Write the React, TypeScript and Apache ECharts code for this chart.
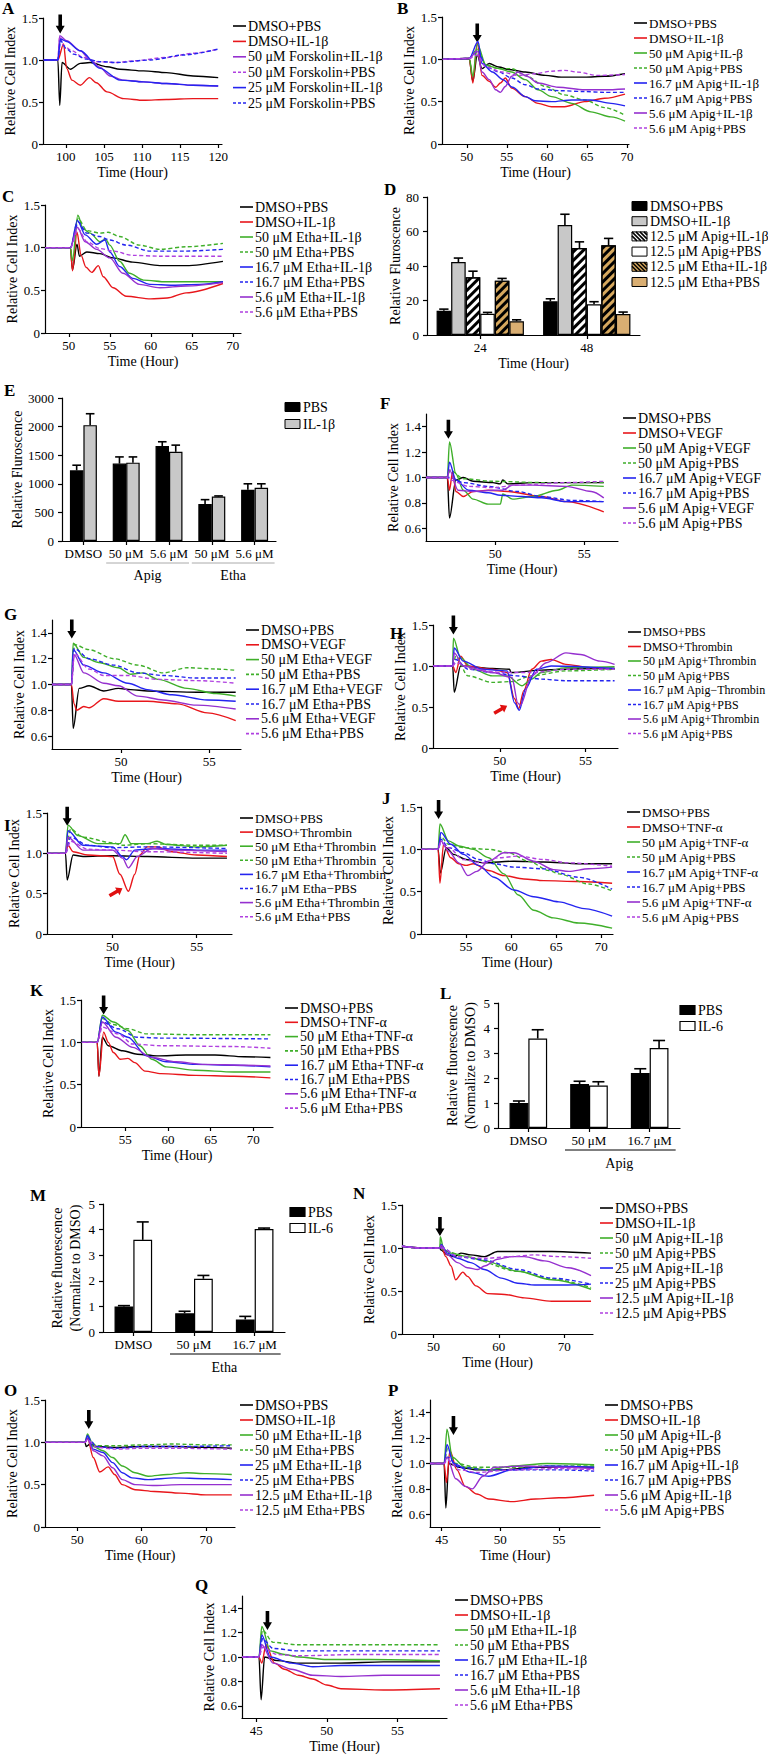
import React, { useEffect, useRef } from "react";
import * as echarts from "echarts";

const FONT = "Liberation Serif, Times New Roman, serif";
const K = "#000000", R = "#E8161B", G = "#3FAF2A", B = "#2424F0", P = "#9530CF", M = "#B040E0";

// ---------------- Panel A (Forskolin) ----------------
const aPre = [[97.1, 1], [98.95, 1]];
const aDmsoPbs = [...aPre, [99.2, 0.46], [99.5, 0.97], [100.6, 0.89], [101.9, 0.96], [103.2, 0.97], [105.4, 0.92], [107.1, 0.89], [110.2, 0.87], [113.2, 0.85], [116.7, 0.81], [120, 0.79]];
const aDmsoIl = [...aPre, [99.7, 1.19], [100.1, 0.9], [100.8, 0.76], [101.9, 0.7], [103.1, 0.79], [104, 0.73], [105.4, 0.62], [107.6, 0.54], [110.2, 0.52], [113.2, 0.53], [116.7, 0.54], [120, 0.54]];
const aF50Il = [...aPre, [99.2, 1.29], [100.1, 1.23], [101.9, 1.11], [103.2, 1.0], [104.5, 0.91], [105.8, 0.81], [107.6, 0.76], [110.2, 0.74], [113.2, 0.72], [116.7, 0.7], [120, 0.69]];
const aF50Pbs = [...aPre, [99.2, 1.28], [99.7, 1.17], [100.8, 1.11], [102.3, 1.03], [104.1, 0.98], [106.7, 0.97], [108.9, 0.99], [113.2, 1.03], [116.7, 1.08], [120, 1.13]];
const aF25Il = [...aPre, [99.3, 1.25], [100.1, 1.22], [101.9, 1.11], [104.5, 0.9], [107.1, 0.76], [110.2, 0.74], [113.2, 0.72], [116.7, 0.7], [120, 0.69]];
const aF25Pbs = [...aPre, [99.3, 1.23], [100.1, 1.13], [101, 1.07], [102.7, 1.01], [104.5, 0.98], [106.7, 0.97], [111.1, 1.0], [115.5, 1.06], [120, 1.13]];

// ---------------- Panel B (Apig, IL-1β) ----------------
const bPre = [[47, 1], [50.3, 1.01]];
const bDmsoPbs = [...bPre, [50.75, 0.74], [51.3, 1.05], [51.9, 0.89], [52.8, 0.95], [54, 0.91], [55.2, 0.88], [57.3, 0.85], [59.8, 0.81], [61.8, 0.79], [64.7, 0.79], [67.2, 0.8], [69.75, 0.83]];
const bDmsoIl = [...bPre, [50.75, 0.72], [51.3, 1.19], [51.9, 0.81], [52.8, 0.74], [53.6, 0.67], [54.2, 0.72], [54.8, 0.78], [55.6, 0.66], [57.3, 0.56], [58.9, 0.48], [60.6, 0.44], [62.2, 0.44], [64.7, 0.5], [67.2, 0.54], [69.75, 0.59]];
const bA50Il = [...bPre, [50.75, 0.8], [51.3, 1.18], [52.4, 0.93], [54, 0.89], [55.6, 0.85], [57.3, 0.76], [58.9, 0.64], [60.6, 0.56], [63.1, 0.48], [65.5, 0.38], [68, 0.32], [69.75, 0.27]];
const bA50Pbs = [...bPre, [51.3, 1.12], [52.4, 0.93], [54, 0.89], [55.6, 0.89], [57.3, 0.81], [59.8, 0.68], [62.2, 0.58], [64.7, 0.52], [67.2, 0.43], [69.75, 0.34]];
const bA167Il = [...bPre, [51.4, 1.21], [51.9, 0.95], [53.2, 0.85], [54.5, 0.76], [55.7, 0.67], [57.3, 0.56], [58.5, 0.51], [60.6, 0.5], [63.1, 0.52], [65.5, 0.52], [68, 0.48], [69.75, 0.45]];
const bA167Pbs = [...bPre, [51.4, 1.1], [52.4, 0.91], [54, 0.85], [55.6, 0.78], [57.3, 0.7], [58.9, 0.65], [61.4, 0.63], [64.7, 0.62], [67.2, 0.61], [69.75, 0.61]];
const bA56Il = [...bPre, [51.3, 1.1], [51.9, 0.85], [52.8, 0.76], [53.6, 0.64], [54.2, 0.61], [54.8, 0.68], [55.6, 0.8], [56.4, 0.85], [57.5, 0.8], [58.9, 0.72], [61.4, 0.67], [64.7, 0.64], [67.2, 0.64], [69.75, 0.65]];
const bA56Pbs = [...bPre, [51.3, 1.05], [52.4, 0.91], [54.4, 0.85], [56.4, 0.81], [58.5, 0.83], [60.6, 0.86], [62.2, 0.87], [63.8, 0.85], [66.3, 0.81], [69.75, 0.82]];

// ---------------- Panel C (Etha, IL-1β) ----------------
const cPre = [[47.1, 1], [50.2, 1]];
const cDmsoPbs = [...cPre, [50.45, 0.74], [51, 1.04], [51.3, 0.9], [52.2, 0.95], [53.8, 0.93], [55.4, 0.88], [57.8, 0.83], [61.1, 0.79], [64.3, 0.79], [68.8, 0.84]];
const cDmsoIl = [...cPre, [50.45, 0.73], [51, 1.18], [51.5, 0.91], [52.1, 0.77], [52.8, 0.71], [53.6, 0.79], [54.2, 0.66], [55.4, 0.53], [57, 0.43], [60, 0.4], [62, 0.41], [64.3, 0.47], [68.8, 0.58]];
const cE50Il = [...cPre, [50.45, 0.85], [51.1, 1.38], [51.75, 1.22], [52.6, 1.17], [53.8, 1.07], [54.5, 1.1], [55, 1.03], [56.2, 0.84], [57.4, 0.7], [59.1, 0.62], [61.9, 0.6], [66, 0.6], [68.8, 0.6]];
const cE50Pbs = [...cPre, [51.15, 1.34], [52.2, 1.2], [53.8, 1.17], [54.8, 1.18], [56.2, 1.13], [58.6, 1.03], [61.1, 0.98], [64.3, 1.01], [68.8, 1.05]];
const cE167Il = [...cPre, [51.05, 1.32], [52, 1.15], [53.4, 1.04], [54.4, 1.09], [55, 0.95], [56.2, 0.78], [57.8, 0.64], [59.9, 0.57], [62.7, 0.56], [66, 0.57], [68.8, 0.6]];
const cE167Pbs = [...cPre, [51.15, 1.3], [52.2, 1.17], [53.8, 1.13], [55, 1.09], [57, 1.03], [59.9, 0.96], [64.3, 0.96], [68.8, 0.98]];
const cE56Il = [...cPre, [51.05, 1.24], [52, 1.07], [53.4, 0.98], [55, 0.88], [56.6, 0.7], [58.6, 0.57], [61.1, 0.53], [64.3, 0.55], [68.8, 0.59]];
const cE56Pbs = [...cPre, [51.15, 1.22], [52.2, 1.07], [53.8, 0.99], [55.4, 0.96], [57.8, 0.91], [61.1, 0.9], [68.8, 0.9]];

// ---------------- Panel D (bars) ----------------
const dHours = ["24", "48"];
const dDmsoPbs = [14, 19.5], dDmsoPbsErr = [1, 1.5];
const dDmsoIl = [42.3, 63.8], dDmsoIlErr = [2.3, 6.2];
const dApigIl = [33.5, 50.4], dApigIlErr = [3.5, 3.6];
const dApigPbs = [12.3, 17.8], dApigPbsErr = [0.8, 1.5];
const dEthaIl = [31.5, 52], dEthaIlErr = [1.3, 4];
const dEthaPbs = [8, 12.2], dEthaPbsErr = [0.8, 1.1];

// ---------------- Panel E (bars, broken scale above 2000) ----------------
const eCats = ["DMSO", "50 μM", "5.6 μM", "50 μM", "5.6 μM"];
const ePbs = [1235, 1353, 1659, 647, 894], ePbsErr = [90, 117, 76, 76, 106];
const eIl = [2050, 1370, 1559, 776, 929], eIlErr = [400, 100, 117, 12, 71];

// ---------------- Panel F (Apig, VEGF) ----------------
const fPre = [[46.1, 1], [47.3, 1]];
const fDmsoPbs = [...fPre, [47.42, 0.68], [47.78, 0.98], [48.2, 1.0], [48.75, 0.97], [49.86, 0.96], [50.28, 0.95], [50.42, 0.98], [50.7, 0.95], [52.1, 0.96], [54, 0.96], [56.1, 0.96]];
const fDmsoVegf = [...fPre, [47.42, 0.9], [47.6, 1.05], [47.78, 0.89], [48.2, 0.85], [48.75, 0.89], [49.6, 0.9], [50.7, 0.89], [52.6, 0.85], [54, 0.81], [56.1, 0.73]];
const fA50Vegf = [...fPre, [47.42, 1.28], [47.78, 1.03], [48.2, 0.9], [48.75, 0.83], [49.6, 0.79], [50.28, 0.79], [50.42, 0.87], [50.97, 0.83], [52.1, 0.85], [53.5, 0.9], [54.3, 0.94], [56.1, 0.93]];
const fA50Pbs = [...fPre, [47.45, 1.06], [48.2, 0.99], [49.86, 0.97], [52.6, 0.96], [56.1, 0.96]];
const fA167Vegf = [...fPre, [47.42, 1.12], [47.78, 0.98], [48.5, 0.9], [49.6, 0.88], [50.28, 0.86], [51.5, 0.85], [52.6, 0.84], [54, 0.81], [56.1, 0.81]];
const fA167Pbs = [...fPre, [47.45, 1.0], [48.2, 0.96], [49.6, 0.93], [51.25, 0.89], [52.6, 0.85], [54.3, 0.82], [56.1, 0.81]];
const fA56Vegf = [...fPre, [47.42, 1.06], [47.9, 0.9], [48.75, 0.89], [49.86, 0.9], [50.42, 0.9], [50.97, 0.94], [52.1, 0.94], [54, 0.93], [55.4, 0.89], [56.1, 0.84]];
const fA56Pbs = [...fPre, [47.45, 0.98], [48.5, 0.93], [49.86, 0.92], [51.25, 0.94], [54, 0.96], [56.1, 0.97]];

// ---------------- Panel G (Etha, VEGF) ----------------
const gPre = [[46.1, 1], [47.2, 1]];
const gDmsoPbs = [...gPre, [47.3, 0.66], [47.64, 0.97], [48.2, 0.99], [49.03, 0.95], [49.86, 0.97], [50.56, 0.96], [51.5, 0.95], [54.3, 0.94], [56.5, 0.94]];
const gDmsoVegf = [...gPre, [47.35, 0.85], [47.5, 0.8], [47.9, 0.83], [48.2, 0.82], [49.03, 0.89], [49.86, 0.87], [51.5, 0.87], [53.2, 0.85], [54.9, 0.78], [56.5, 0.72]];
const gE50Vegf = [...gPre, [47.3, 1.32], [47.9, 1.21], [48.75, 1.17], [49.86, 1.13], [50.56, 1.08], [51.25, 1.09], [52.1, 1.04], [53.75, 0.97], [55.4, 0.93], [56.5, 0.91]];
const gE50Pbs = [...gPre, [47.36, 1.31], [48.2, 1.27], [49.6, 1.2], [50.97, 1.15], [52.4, 1.09], [53.75, 1.13], [55.4, 1.12], [56.5, 1.11]];
const gE167Vegf = [...gPre, [47.3, 1.27], [47.9, 1.15], [49.03, 1.09], [50.4, 1.01], [51.5, 0.96], [52.9, 0.92], [54.9, 0.88], [56.5, 0.87]];
const gE167Pbs = [...gPre, [47.36, 1.28], [48.2, 1.2], [49.6, 1.15], [50.97, 1.09], [52.4, 1.07], [54.3, 1.05], [56.5, 1.05]];
const gE56Vegf = [...gPre, [47.36, 1.23], [47.9, 1.09], [49.03, 1.01], [49.86, 0.99], [50.97, 0.91], [52.4, 0.88], [54.3, 0.84], [56.5, 0.81]];
const gE56Pbs = [...gPre, [47.36, 1.24], [48.2, 1.12], [49.03, 1.07], [50.4, 1.07], [52.1, 1.04], [54.3, 1.03], [56.5, 1.01]];

// ---------------- Panel H (Apig, Thrombin) ----------------
const hPre = [[46.1, 1], [47.25, 1]];
const hDmsoPbs = [...hPre, [47.34, 0.68], [47.71, 1.0], [49.57, 0.97], [50.57, 0.96], [50.65, 0.92], [52.43, 0.95], [55.29, 0.97], [56.7, 0.97]];
const hDmsoThr = [...hPre, [47.43, 0.92], [47.71, 1.12], [48.14, 1.0], [49.57, 0.96], [50.43, 0.92], [50.86, 0.6], [51.1, 0.48], [51.4, 0.7], [51.86, 0.96], [52.43, 1.06], [53.0, 1.08], [53.86, 1.02], [55.29, 0.98], [56.7, 0.96]];
const hA50Thr = [...hPre, [47.29, 1.34], [47.71, 1.1], [48.43, 0.96], [49.57, 0.88], [50.43, 0.88], [51.29, 0.76], [51.86, 0.84], [52.43, 0.92], [53.86, 0.98], [56.7, 0.99]];
const hA50Pbs = [...hPre, [47.43, 1.12], [48.14, 0.88], [49.57, 0.8], [50.71, 0.81], [51.86, 0.88], [53.86, 0.94], [56.7, 0.96]];
const hA167Thr = [...hPre, [47.34, 1.22], [47.86, 1.06], [49, 0.96], [50.43, 0.94], [50.86, 0.55], [51.14, 0.46], [51.5, 0.72], [52.14, 0.96], [53, 1.0], [56.7, 0.97]];
const hA167Pbs = [...hPre, [47.43, 1.08], [48.14, 0.96], [49.57, 0.92], [51.0, 0.88], [52.43, 0.84], [53.86, 0.82], [56.7, 0.82]];
const hA56Thr = [...hPre, [47.34, 1.16], [47.86, 1.0], [49.57, 0.92], [50.71, 0.86], [51.05, 0.55], [51.2, 0.52], [51.86, 0.88], [52.71, 1.04], [53.86, 1.16], [54.71, 1.14], [55.86, 1.06], [56.7, 1.02]];
const hA56Pbs = [...hPre, [47.43, 1.04], [48.43, 0.96], [50.14, 0.92], [51.86, 0.92], [53.86, 0.96], [56.7, 0.96]];

// ---------------- Panel I (Etha, Thrombin) ----------------
const iPre = [[46.1, 1], [47.2, 1]];
const iDmsoPbs = [...iPre, [47.3, 0.67], [47.65, 0.98], [48.24, 0.96], [50, 0.97], [52.06, 0.96], [55, 0.94], [56.8, 0.94]];
const iDmsoThr = [...iPre, [47.35, 1.1], [47.65, 1.02], [48.53, 0.98], [50, 0.96], [50.44, 0.74], [50.94, 0.53], [51.32, 0.74], [51.62, 0.98], [52.06, 1.08], [52.65, 1.08], [53.53, 1.02], [55, 0.98], [56.8, 0.96]];
const iE50Thr = [...iPre, [47.35, 1.35], [47.94, 1.22], [49.12, 1.12], [50.44, 1.12], [50.74, 1.23], [51.1, 1.12], [52.06, 1.12], [52.65, 1.15], [53.2, 1.11], [55, 1.08], [56.8, 1.1]];
const iE50Thr2 = [...iPre, [47.5, 1.3], [48.24, 1.2], [50, 1.13], [50.59, 1.1], [52.06, 1.12], [55, 1.1], [56.8, 1.1]];
const iE167Thr = [...iPre, [47.35, 1.28], [48.24, 1.1], [50, 1.08], [50.59, 0.96], [50.82, 0.92], [51.32, 1.04], [52.65, 1.06], [55, 1.04], [56.8, 1.04]];
const iE167Pbs = [...iPre, [47.5, 1.2], [48.53, 1.1], [50, 1.07], [52.06, 1.08], [56.8, 1.06]];
const iE56Thr = [...iPre, [47.35, 1.2], [48.24, 1.04], [50, 1.04], [50.59, 0.94], [50.94, 0.82], [51.47, 0.96], [52.35, 1.06], [53.53, 1.04], [56.8, 1.02]];
const iE56Pbs = [...iPre, [47.5, 1.15], [48.53, 1.05], [50, 1.04], [52.06, 1.02], [56.8, 1.0]];

// ---------------- Panel J (Apig, TNF-α) ----------------
const jPre = [[50, 1], [51.9, 1]];
const jDmsoPbs = [...jPre, [52.15, 0.72], [52.8, 1.02], [53.6, 0.94], [55, 0.88], [56.9, 0.84], [60.3, 0.86], [63.6, 0.85], [67.5, 0.83], [71.2, 0.83]];
const jDmsoTnf = [...jPre, [52.1, 0.6], [52.5, 1.06], [53.3, 0.9], [54.2, 0.83], [55, 0.81], [55.8, 0.83], [57.5, 0.75], [59.2, 0.69], [61.4, 0.65], [63.6, 0.63], [67.5, 0.62], [71.2, 0.6]];
const jA50Tnf = [...jPre, [52.1, 1.3], [53.05, 1.1], [54.2, 1.04], [55.8, 1.0], [57.5, 0.9], [59.2, 0.71], [60.8, 0.46], [62.5, 0.28], [64.7, 0.19], [67.5, 0.13], [71.2, 0.07]];
const jA50Pbs = [...jPre, [52.2, 1.15], [53.05, 1.06], [54.7, 1.02], [57.5, 1.0], [59.7, 0.96], [61.9, 0.86], [64.2, 0.75], [65.3, 0.71], [68.6, 0.59], [71.2, 0.51]];
const jA167Tnf = [...jPre, [52.2, 1.2], [53.3, 1.06], [54.7, 0.94], [56.4, 0.81], [58.1, 0.67], [60.3, 0.52], [62.5, 0.44], [65.3, 0.38], [68.1, 0.3], [71.2, 0.21]];
const jA167Pbs = [...jPre, [52.2, 1.12], [53.05, 1.02], [54.7, 0.96], [56.4, 0.88], [58.1, 0.83], [60.3, 0.79], [63.6, 0.77], [67.5, 0.67], [71.2, 0.53]];
const jA56Tnf = [...jPre, [52.2, 1.1], [53.05, 0.98], [54.2, 0.84], [55.2, 0.69], [56.2, 0.74], [57.5, 0.86], [59.2, 0.96], [60.3, 0.96], [62.5, 0.86], [64.7, 0.76], [66.4, 0.74], [68.6, 0.77], [71.2, 0.79]];
const jA56Pbs = [...jPre, [52.2, 1.08], [53.05, 1.02], [54.7, 0.88], [56.7, 0.84], [58.6, 0.9], [60.8, 0.92], [63.6, 0.88], [66.4, 0.84], [71.2, 0.8]];

// ---------------- Panel K (Etha, TNF-α) ----------------
const kPre = [[49.9, 1], [51.7, 1]];
const kDmsoPbs = [...kPre, [51.9, 0.6], [52.3, 1.06], [53, 0.96], [54.7, 0.9], [56.4, 0.86], [58.7, 0.84], [62.1, 0.85], [65.5, 0.85], [68.9, 0.83], [72, 0.82]];
const kDmsoTnf = [...kPre, [51.9, 0.6], [52.45, 1.12], [53, 1.0], [53.6, 0.88], [54.4, 0.8], [55.3, 0.81], [56.1, 0.76], [57.3, 0.66], [59.2, 0.63], [63.2, 0.61], [67.7, 0.6], [72, 0.58]];
const kE50Tnf = [...kPre, [52.3, 1.32], [53.6, 1.24], [55.3, 1.14], [56.7, 0.96], [58.1, 0.8], [59.8, 0.71], [63.2, 0.67], [67.7, 0.65], [72, 0.65]];
const kE50Pbs = [...kPre, [52.3, 1.28], [53.6, 1.21], [55.3, 1.16], [57.5, 1.1], [63.2, 1.09], [72, 1.09]];
const kE167Tnf = [...kPre, [52.3, 1.3], [53.9, 1.12], [55.3, 1.06], [57.5, 0.84], [59.8, 0.77], [63.2, 0.74], [67.7, 0.73], [72, 0.71]];
const kE167Pbs = [...kPre, [52.3, 1.24], [54.15, 1.16], [56.4, 1.06], [59.2, 1.05], [72, 1.04]];
const kE56Tnf = [...kPre, [52.3, 1.24], [53.9, 1.06], [55.85, 0.94], [58.1, 0.82], [60.9, 0.77], [64.3, 0.74], [68.9, 0.73], [72, 0.72]];
const kE56Pbs = [...kPre, [52.3, 1.18], [54.15, 1.1], [55.85, 0.98], [59.2, 0.96], [67.7, 0.95], [72, 0.93]];

// ---------------- Panel L / M (IL-6 bars) ----------------
const lCats = ["DMSO", "50 μM", "16.7 μM"];
const lPbs = [1.0, 1.76, 2.2], lPbsErr = [0.08, 0.11, 0.17];
const lIl6 = [3.58, 1.7, 3.2], lIl6Err = [0.35, 0.15, 0.3];
const mCats = ["DMSO", "50 μM", "16.7 μM"];
const mPbs = [1.0, 0.73, 0.49], mPbsErr = [0.03, 0.08, 0.12];
const mIl6 = [3.6, 2.08, 4.02], mIl6Err = [0.7, 0.13, 0.04];

// ---------------- Panel N (Apig, IL-1β) ----------------
const nPre = [[45.2, 1.02], [48, 1.0], [51, 1.0]];
const nDmsoPbs = [...nPre, [51.1, 0.98], [52.15, 0.92], [53.2, 0.9], [54.2, 0.94], [55.7, 0.92], [57.8, 0.9], [59.8, 0.96], [62.9, 0.96], [68.1, 0.96], [74.1, 0.94]];
const nDmsoIl = [...nPre, [51.2, 1.02], [51.9, 0.9], [52.7, 0.79], [53.4, 0.63], [54.5, 0.72], [55.2, 0.67], [56.5, 0.56], [58.3, 0.47], [60.9, 0.46], [63.9, 0.42], [68.1, 0.38], [74.1, 0.38]];
const nA50Il = [...nPre, [51.05, 1.13], [51.6, 0.98], [52.7, 0.94], [55.2, 0.9], [57.8, 0.85], [62.9, 0.73], [68.1, 0.63], [74.1, 0.52]];
const nA50Pbs = [...nPre, [51.1, 1.05], [51.6, 0.97], [55.2, 0.89], [62.9, 0.73], [68.1, 0.64], [74.1, 0.54]];
const nA25Il = [...nPre, [51.2, 1.04], [52.15, 0.94], [53.7, 0.88], [55.7, 0.83], [57.8, 0.75], [60.4, 0.65], [62.9, 0.59], [65.5, 0.57], [70.6, 0.57], [74.1, 0.58]];
const nA25Pbs = [...nPre, [51.4, 1.0], [53.7, 0.9], [57.8, 0.86], [62.9, 0.75], [68.1, 0.65], [74.1, 0.58]];
const nA125Il = [...nPre, [51.2, 1.03], [52.15, 0.92], [53.7, 0.83], [55.2, 0.77], [56.8, 0.75], [57.8, 0.79], [59.8, 0.87], [61.9, 0.9], [63.9, 0.9], [67, 0.85], [70.6, 0.77], [74.1, 0.68]];
const nA125Pbs = [...nPre, [51.4, 1.0], [53.7, 0.9], [57.8, 0.88], [61.9, 0.9], [65.5, 0.92], [69.1, 0.9], [74.1, 0.88]];

// ---------------- Panel O (Etha, IL-1β) ----------------
const oPre = [[45, 1], [51.2, 1]];
const oDmsoPbs = [...oPre, [51.4, 0.95], [52, 0.98], [53, 0.95], [56, 0.94], [60, 0.95], [65, 0.95], [70, 0.94], [74, 0.93]];
const oDmsoIl = [...oPre, [51.6, 1.05], [52.5, 0.82], [53.5, 0.65], [54.8, 0.71], [55.8, 0.62], [57, 0.5], [59, 0.44], [62, 0.42], [66, 0.4], [70, 0.38], [74, 0.38]];
const oE50Il = [...oPre, [51.6, 1.1], [52.5, 0.95], [54, 0.9], [55.5, 0.82], [57, 0.72], [59, 0.64], [61, 0.6], [64, 0.62], [67, 0.64], [70, 0.63], [74, 0.62]];
const oE50Pbs = [...oPre, [51.6, 1.05], [53, 0.96], [56, 0.96], [60, 0.97], [65, 0.98], [70, 0.97], [74, 0.97]];
const oE25Il = [...oPre, [51.6, 1.08], [52.5, 0.92], [54, 0.88], [55.5, 0.76], [57, 0.64], [58.5, 0.58], [61, 0.56], [65, 0.58], [70, 0.57], [74, 0.56]];
const oE25Pbs = [...oPre, [51.6, 1.06], [53, 0.95], [56, 0.93], [60, 0.95], [65, 0.95], [74, 0.96]];
const oE125Il = [...oPre, [51.6, 1.04], [52.5, 0.9], [54, 0.84], [55.5, 0.7], [57, 0.56], [59, 0.5], [62, 0.49], [66, 0.5], [70, 0.5], [74, 0.5]];
const oE125Pbs = [...oPre, [51.6, 1.03], [53, 0.94], [56, 0.92], [60, 0.93], [65, 0.93], [74, 0.92]];

// ---------------- Panel P (Apig, IL-1β) ----------------
const pPre = [[44, 1], [45.2, 1]];
const pDmsoPbs = [...pPre, [45.35, 0.65], [45.6, 1.0], [46.5, 0.97], [48, 0.95], [50, 0.95], [53, 0.97], [58, 0.97]];
const pDmsoIl = [...pPre, [45.4, 0.85], [45.7, 1.1], [46.3, 0.95], [47, 0.82], [48, 0.76], [49, 0.72], [51, 0.7], [53, 0.72], [55, 0.73], [58, 0.75]];
const pA50Il = [...pPre, [45.45, 1.27], [45.9, 1.05], [47, 0.97], [49, 0.95], [51, 0.98], [54, 1.0], [58, 0.99]];
const pA50Pbs = [...pPre, [45.5, 1.12], [46.2, 1.0], [48, 0.97], [51, 0.97], [54, 0.98], [58, 0.98]];
const pA167Il = [...pPre, [45.45, 1.15], [46, 1.0], [47.5, 0.93], [49, 0.9], [51, 0.95], [54, 0.98], [58, 0.97]];
const pA167Pbs = [...pPre, [45.5, 1.05], [46.5, 0.97], [49, 0.95], [52, 0.95], [55, 0.95], [58, 0.94]];
const pA56Il = [...pPre, [45.45, 1.05], [46.2, 0.88], [47, 0.82], [47.6, 0.8], [48.5, 0.9], [49.5, 0.97], [52, 0.98], [55, 0.97], [58, 0.96]];
const pA56Pbs = [...pPre, [45.5, 1.03], [46.5, 0.95], [48, 0.93], [51, 0.95], [55, 0.96], [58, 0.95]];

// ---------------- Panel Q (Etha, IL-1β) ----------------
const qPre = [[44, 1], [45.2, 1]];
const qDmsoPbs = [...qPre, [45.35, 0.65], [45.6, 1.0], [46.5, 0.97], [48, 0.95], [51, 0.95], [54, 0.96], [58, 0.96]];
const qDmsoIl = [...qPre, [45.4, 0.95], [45.7, 1.1], [46.3, 0.95], [47, 0.9], [48, 0.85], [49, 0.82], [50, 0.77], [51, 0.74], [54, 0.73], [58, 0.74]];
const qE50Il = [...qPre, [45.4, 1.25], [46, 1.05], [47, 1.02], [48, 1.0], [50, 0.98], [53, 0.98], [58, 0.97]];
const qE50Pbs = [...qPre, [45.45, 1.22], [46.2, 1.12], [48, 1.1], [51, 1.1], [55, 1.1], [58, 1.1]];
const qE167Il = [...qPre, [45.4, 1.18], [46, 1.0], [47.5, 0.95], [49, 0.92], [51, 0.93], [54, 0.93], [58, 0.93]];
const qE167Pbs = [...qPre, [45.45, 1.15], [46.2, 1.07], [48, 1.05], [51, 1.05], [55, 1.05], [58, 1.05]];
const qE56Il = [...qPre, [45.4, 1.1], [46.2, 0.95], [47.5, 0.9], [49, 0.85], [51, 0.84], [54, 0.85], [58, 0.85]];
const qE56Pbs = [...qPre, [45.45, 1.08], [46.5, 1.02], [48, 1.01], [52, 1.02], [58, 1.02]];

// --------------------------------------------------------------
type Ln = [string, number[][], string, boolean];
type LinePanel = {
  letter: string; lp: [number, number];
  box: [number, number, number, number];
  xr: [number, number]; xt: number[];
  yr: [number, number]; yt: number[];
  yGap: number;
  lines: Ln[];
  leg: [number, number, number, number];
  arrow: [number, number];
  red?: [number, number];
};

const Y15 = [0, 0.5, 1, 1.5];
const Y06 = [0.6, 0.8, 1.0, 1.2, 1.4];

const linePanels: LinePanel[] = [
  { letter: "A", lp: [2, 8], box: [43, 18, 179, 126], xr: [97, 120.5], xt: [100, 105, 110, 115, 120], yr: [0, 1.5], yt: Y15, yGap: 21,
    lines: [["DMSO+PBS", aDmsoPbs, K, false], ["DMSO+IL-1β", aDmsoIl, R, false], ["50 μM Forskolin+IL-1β", aF50Il, P, false], ["50 μM Forskolin+PBS", aF50Pbs, M, true], ["25 μM Forskolin+IL-1β", aF25Il, B, false], ["25 μM Forskolin+PBS", aF25Pbs, B, true]],
    leg: [233, 26, 15.4, 14], arrow: [99.26, 1.43] },
  { letter: "B", lp: [397, 8], box: [442, 17, 187, 127], xr: [46.9, 70.25], xt: [50, 55, 60, 65, 70], yr: [0, 1.5], yt: Y15, yGap: 19,
    lines: [["DMSO+PBS", bDmsoPbs, K, false], ["DMSO+IL-1β", bDmsoIl, R, false], ["50 μM Apig+IL-β", bA50Il, G, false], ["50 μM Apig+PBS", bA50Pbs, G, true], ["16.7 μM Apig+IL-1β", bA167Il, B, false], ["16.7 μM Apig+PBS", bA167Pbs, B, true], ["5.6 μM Apig+IL-1β", bA56Il, P, false], ["5.6 μM Apig+PBS", bA56Pbs, M, true]],
    leg: [634, 23, 15, 13], arrow: [51.3, 1.31] },
  { letter: "C", lp: [2, 196], box: [45, 205, 196, 128], xr: [47.1, 71], xt: [50, 55, 60, 65, 70], yr: [0, 1.5], yt: Y15, yGap: 23,
    lines: [["DMSO+PBS", cDmsoPbs, K, false], ["DMSO+IL-1β", cDmsoIl, R, false], ["50 μM Etha+IL-1β", cE50Il, G, false], ["50 μM Etha+PBS", cE50Pbs, G, true], ["16.7 μM Etha+IL-1β", cE167Il, B, false], ["16.7 μM Etha+PBS", cE167Pbs, B, true], ["5.6 μM Etha+IL-1β", cE56Il, P, false], ["5.6 μM Etha+PBS", cE56Pbs, M, true]],
    leg: [240, 207, 15, 14], arrow: [51.1, 1.53] },
  { letter: "F", lp: [380, 403], box: [426, 414, 192, 127], xr: [46.1, 56.9], xt: [50, 55], yr: [0.5, 1.5], yt: Y06, yGap: 25,
    lines: [["DMSO+PBS", fDmsoPbs, K, false], ["DMSO+VEGF", fDmsoVegf, R, false], ["50 μM Apig+VEGF", fA50Vegf, G, false], ["50 μM Apig+PBS", fA50Pbs, G, true], ["16.7 μM Apig+VEGF", fA167Vegf, B, false], ["16.7 μM Apig+PBS", fA167Pbs, B, true], ["5.6 μM Apig+VEGF", fA56Vegf, P, false], ["5.6 μM Apig+PBS", fA56Pbs, M, true]],
    leg: [623, 418, 15, 14], arrow: [47.36, 1.38] },
  { letter: "G", lp: [4, 614], box: [52, 620, 189, 129], xr: [46.1, 56.8], xt: [50, 55], yr: [0.5, 1.5], yt: Y06, yGap: 26,
    lines: [["DMSO+PBS", gDmsoPbs, K, false], ["DMSO+VEGF", gDmsoVegf, R, false], ["50 μM Etha+VEGF", gE50Vegf, G, false], ["50 μM Etha+PBS", gE50Pbs, G, true], ["16.7 μM Etha+VEGF", gE167Vegf, B, false], ["16.7 μM Etha+PBS", gE167Pbs, B, true], ["5.6 μM Etha+VEGF", gE56Vegf, P, false], ["5.6 μM Etha+PBS", gE56Pbs, M, true]],
    leg: [246, 630, 14.8, 14], arrow: [47.22, 1.43] },
  { letter: "H", lp: [390, 633], box: [433, 625, 185, 123], xr: [46.1, 56.9], xt: [50, 55], yr: [0, 1.5], yt: Y15, yGap: 25,
    lines: [["DMSO+PBS", hDmsoPbs, K, false], ["DMSO+Thrombin", hDmsoThr, R, false], ["50 μM Apig+Thrombin", hA50Thr, G, false], ["50 μM Apig+PBS", hA50Pbs, G, true], ["16.7 μM Apig−Thrombin", hA167Thr, B, false], ["16.7 μM Apig+PBS", hA167Pbs, B, true], ["5.6 μM Apig+Thrombin", hA56Thr, P, false], ["5.6 μM Apig+PBS", hA56Pbs, M, true]],
    leg: [628, 632, 14.5, 12], arrow: [47.29, 1.5], red: [50.05, 0.47] },
  { letter: "I", lp: [4, 825], box: [47, 813, 185, 121], xr: [46.1, 57.1], xt: [50, 55], yr: [0, 1.5], yt: Y15, yGap: 23,
    lines: [["DMSO+PBS", iDmsoPbs, K, false], ["DMSO+Thrombin", iDmsoThr, R, false], ["50 μM Etha+Thrombin", iE50Thr, G, false], ["50 μM Etha+Thrombin", iE50Thr2, G, true], ["16.7 μM Etha+Thrombin", iE167Thr, B, false], ["16.7 μM Etha−PBS", iE167Pbs, B, true], ["5.6 μM Etha+Thrombin", iE56Thr, P, false], ["5.6 μM Etha+PBS", iE56Pbs, M, true]],
    leg: [240, 818, 14.1, 13], arrow: [47.3, 1.46], red: [50.2, 0.52] },
  { letter: "J", lp: [382, 798], box: [421, 807, 192, 127], xr: [50, 71.3], xt: [55, 60, 65, 70], yr: [0, 1.5], yt: Y15, yGap: 20,
    lines: [["DMSO+PBS", jDmsoPbs, K, false], ["DMSO+TNF-α", jDmsoTnf, R, false], ["50 μM Apig+TNF-α", jA50Tnf, G, false], ["50 μM Apig+PBS", jA50Pbs, G, true], ["16.7 μM Apig+TNF-α", jA167Tnf, B, false], ["16.7 μM Apig+PBS", jA167Pbs, B, true], ["5.6 μM Apig+TNF-α", jA56Tnf, P, false], ["5.6 μM Apig+PBS", jA56Pbs, M, true]],
    leg: [627, 812, 15, 13], arrow: [51.95, 1.47] },
  { letter: "K", lp: [30, 990], box: [81, 1000, 192, 127], xr: [49.8, 72.3], xt: [55, 60, 65, 70], yr: [0, 1.5], yt: Y15, yGap: 22,
    lines: [["DMSO+PBS", kDmsoPbs, K, false], ["DMSO+TNF-α", kDmsoTnf, R, false], ["50 μM Etha+TNF-α", kE50Tnf, G, false], ["50 μM Etha+PBS", kE50Pbs, G, true], ["16.7 μM Etha+TNF-α", kE167Tnf, B, false], ["16.7 μM Etha+PBS", kE167Pbs, B, true], ["5.6 μM Etha+TNF-α", kE56Tnf, P, false], ["5.6 μM Etha+PBS", kE56Pbs, M, true]],
    leg: [285, 1008, 14.3, 14], arrow: [52.45, 1.44] },
  { letter: "N", lp: [353, 1193], box: [402, 1205, 191, 129], xr: [45.2, 74.4], xt: [50, 60, 70], yr: [0, 1.5], yt: Y15, yGap: 23,
    lines: [["DMSO+PBS", nDmsoPbs, K, false], ["DMSO+IL-1β", nDmsoIl, R, false], ["50 μM Apig+IL-1β", nA50Il, G, false], ["50 μM Apig+PBS", nA50Pbs, G, true], ["25 μM Apig+IL-1β", nA25Il, B, false], ["25 μM Apig+PBS", nA25Pbs, B, true], ["12.5 μM Apig+IL-1β", nA125Il, P, false], ["12.5 μM Apig+PBS", nA125Pbs, M, true]],
    leg: [600, 1208, 15, 14], arrow: [51.0, 1.25] },
  { letter: "O", lp: [4, 1390], box: [45, 1400, 190, 127], xr: [45, 74.5], xt: [50, 60, 70], yr: [0, 1.5], yt: Y15, yGap: 23,
    lines: [["DMSO+PBS", oDmsoPbs, K, false], ["DMSO+IL-1β", oDmsoIl, R, false], ["50 μM Etha+IL-1β", oE50Il, G, false], ["50 μM Etha+PBS", oE50Pbs, G, true], ["25 μM Etha+IL-1β", oE25Il, B, false], ["25 μM Etha+PBS", oE25Pbs, B, true], ["12.5 μM Etha+IL-1β", oE125Il, P, false], ["12.5 μM Etha+PBS", oE125Pbs, M, true]],
    leg: [240, 1405, 15, 14], arrow: [51.8, 1.27] },
  { letter: "P", lp: [388, 1390], box: [430, 1400, 170, 127], xr: [44, 58.5], xt: [45, 50, 55], yr: [0.5, 1.5], yt: Y06, yGap: 23,
    lines: [["DMSO+PBS", pDmsoPbs, K, false], ["DMSO+IL-1β", pDmsoIl, R, false], ["50 μM Apig+IL-β", pA50Il, G, false], ["50 μM Apig+PBS", pA50Pbs, G, true], ["16.7 μM Apig+IL-1β", pA167Il, B, false], ["16.7 μM Apig+PBS", pA167Pbs, B, true], ["5.6 μM Apig+IL-1β", pA56Il, P, false], ["5.6 μM Apig+PBS", pA56Pbs, M, true]],
    leg: [605, 1405, 15, 14], arrow: [46.0, 1.3] },
  { letter: "Q", lp: [195, 1585], box: [242, 1596, 205, 122], xr: [44, 58.5], xt: [45, 50, 55], yr: [0.5, 1.5], yt: Y06, yGap: 23,
    lines: [["DMSO+PBS", qDmsoPbs, K, false], ["DMSO+IL-1β", qDmsoIl, R, false], ["50 μM Etha+IL-1β", qE50Il, G, false], ["50 μM Etha+PBS", qE50Pbs, G, true], ["16.7 μM Etha+IL-1β", qE167Il, B, false], ["16.7 μM Etha+PBS", qE167Pbs, B, true], ["5.6 μM Etha+IL-1β", qE56Il, P, false], ["5.6 μM Etha+PBS", qE56Pbs, M, true]],
    leg: [455, 1600, 15, 14], arrow: [45.8, 1.3] },
];

const ARROW = "path://M3,0L7,0L7,12L10,12L5,20L0,12L3,12Z";

function fmtY(v: number) { return v === 0 ? "0" : v.toFixed(1); }
function eMap(v: number) { return v <= 2000 ? v : 2000 + (v - 2000) / 2; }

function buildOption() {
  const grid: any[] = [], xAxis: any[] = [], yAxis: any[] = [], series: any[] = [], graphic: any[] = [];
  const axisCommon = {
    axisLine: { show: true, onZero: false, lineStyle: { color: "#000", width: 1.2 } },
    axisTick: { show: true, length: 4, lineStyle: { color: "#000", width: 1.2 } },
    splitLine: { show: false },
    axisLabel: { color: "#000", fontSize: 13, fontFamily: FONT },
    nameTextStyle: { color: "#000", fontSize: 14, fontFamily: FONT },
  };
  const text = (x: number, y: number, s: string, size = 14, extra: any = {}) => ({
    type: "text", x, y, silent: true,
    style: { text: s, fill: "#000", fontSize: size, fontFamily: FONT, align: "left", verticalAlign: "middle", ...extra },
  });
  const letter = (x: number, y: number, s: string) => text(x, y, s, 17, { fontWeight: "bold" });

  let gi = 0;
  for (const p of linePanels) {
    grid.push({ left: p.box[0], top: p.box[1], width: p.box[2], height: p.box[3] });
    xAxis.push({
      ...axisCommon, gridIndex: gi, type: "value", min: p.xr[0], max: p.xr[1],
      axisTick: { ...axisCommon.axisTick, customValues: p.xt },
      axisLabel: { ...axisCommon.axisLabel, customValues: p.xt, margin: 6 },
      name: "Time (Hour)", nameLocation: "middle", nameGap: 21,
    });
    yAxis.push({
      ...axisCommon, gridIndex: gi, type: "value", min: p.yr[0], max: p.yr[1],
      axisTick: { ...axisCommon.axisTick, customValues: p.yt },
      axisLabel: { ...axisCommon.axisLabel, customValues: p.yt, formatter: fmtY, margin: 5 },
      name: "Relative Cell Index", nameLocation: "middle", nameGap: p.yGap,
    });
    p.lines.forEach((ln, k) => {
      const s: any = {
        type: "line", xAxisIndex: gi, yAxisIndex: gi, data: ln[1], showSymbol: false, symbol: "none",
        smooth: 0.3, smoothMonotone: "x", z: 3 + k,
        lineStyle: { color: ln[2], width: 1.4, type: ln[3] ? [4, 2.5] : "solid" },
        itemStyle: { color: ln[2] }, silent: true,
      };
      if (k === 0) {
        const mp: any[] = [{ coord: p.arrow, symbol: ARROW, symbolSize: [9, 19], itemStyle: { color: "#000" } }];
        if (p.red) mp.push({ coord: p.red, symbol: ARROW, symbolSize: [9, 15], symbolRotate: 120, itemStyle: { color: "#E01010" } });
        s.markPoint = { data: mp, label: { show: false }, silent: true, animation: false };
      }
      series.push(s);
    });
    const [lx, ly, dy, fs] = p.leg;
    p.lines.forEach((ln, k) => {
      const y = ly + k * dy;
      graphic.push({ type: "line", silent: true, shape: { x1: lx, y1: y, x2: lx + 13, y2: y }, style: { stroke: ln[2], lineWidth: 1.6, lineDash: ln[3] ? [3, 2] : null } });
      graphic.push(text(lx + 15, y, ln[0], fs));
    });
    graphic.push(letter(p.lp[0], p.lp[1], p.letter));
    gi++;
  }

  const errSeries = (g: number, vals: number[], errs: number[], idx: number, n: number, gap: number, map = (v: number) => v) => ({
    type: "custom", xAxisIndex: g, yAxisIndex: g, z: 10, silent: true,
    data: vals.map((v, i) => [i, map(v), map(v + errs[i])]),
    renderItem: (params: any, api: any) => {
      const c = api.value(0);
      const base = api.coord([c, api.value(1)]);
      const top = api.coord([c, api.value(2)]);
      const band = api.size([1, 0])[0];
      const gw = band * (1 - gap);
      const bw = gw / n;
      const x = base[0] - gw / 2 + (idx + 0.5) * bw;
      const cw = bw * 0.32;
      return {
        type: "group", children: [
          { type: "line", shape: { x1: x, y1: base[1], x2: x, y2: top[1] }, style: { stroke: "#000", lineWidth: 1.6 } },
          { type: "line", shape: { x1: x - cw, y1: top[1], x2: x + cw, y2: top[1] }, style: { stroke: "#000", lineWidth: 1.6 } },
        ],
      };
    },
  });
  const hatch = { symbol: "rect", symbolSize: 1, color: "#000", dashArrayX: [1, 0], dashArrayY: [2.2, 2.6], rotation: -Math.PI / 4 };
  const barSeries = (g: number, vals: number[], color: string, gap: number, map = (v: number) => v, decal?: any) => ({
    type: "bar", xAxisIndex: g, yAxisIndex: g, data: vals.map(map), barGap: "0%", barCategoryGap: `${gap * 100}%`, silent: true,
    itemStyle: { color, borderColor: "#000", borderWidth: 1.2, ...(decal ? { decal } : {}) },
  });
  const catAxis = (g: number, cats: string[], size = 13) => ({
    ...axisCommon, gridIndex: g, type: "category", data: cats,
    axisTick: { ...axisCommon.axisTick, alignWithLabel: true },
    axisLabel: { ...axisCommon.axisLabel, fontSize: size, margin: 6, interval: 0 },
  });

  // ---- D ----
  const dG = gi++;
  const dGap = 0.18;
  grid.push({ left: 427, top: 197, width: 213, height: 138 });
  xAxis.push({ ...catAxis(dG, dHours), name: "Time (Hour)", nameLocation: "middle", nameGap: 21 });
  yAxis.push({ ...axisCommon, gridIndex: dG, type: "value", min: 0, max: 80, interval: 20, name: "Relative Fluroscence", nameLocation: "middle", nameGap: 23 });
  const dSets: [string, number[], number[], string, any][] = [
    ["DMSO+PBS", dDmsoPbs, dDmsoPbsErr, "#000000", null],
    ["DMSO+IL-1β", dDmsoIl, dDmsoIlErr, "#C8C8C8", null],
    ["12.5 μM Apig+IL-1β", dApigIl, dApigIlErr, "#FFFFFF", hatch],
    ["12.5 μM Apig+PBS", dApigPbs, dApigPbsErr, "#FFFFFF", null],
    ["12.5 μM Etha+IL-1β", dEthaIl, dEthaIlErr, "#D6A85E", hatch],
    ["12.5 μM Etha+PBS", dEthaPbs, dEthaPbsErr, "#D9AE72", null],
  ];
  dSets.forEach((d, i) => {
    series.push(barSeries(dG, d[1], d[3], dGap, undefined, d[4]));
    series.push(errSeries(dG, d[1], d[2], i, dSets.length, dGap));
    const y = 206 + i * 15.2;
    graphic.push({ type: "rect", silent: true, shape: { x: 632, y: y - 4.5, width: 15, height: 9 }, style: { fill: d[3], stroke: "#000", lineWidth: 1 } });
    if (d[4]) {
      [[0, 0, 9, 9], [4, 0, 13, 9], [8, 0, 15, 7], [0, 4, 5, 9], [12, 0, 15, 3]].forEach(([a, b, c, e]) =>
        graphic.push({ type: "line", silent: true, shape: { x1: 632 + a, y1: y - 4.5 + b, x2: 632 + c, y2: y - 4.5 + e }, style: { stroke: "#000", lineWidth: 1.5 } }));
    }
    graphic.push(text(650, y, d[0], 14));
  });
  graphic.push(letter(384, 189, "D"));

  // ---- E ----
  const eG = gi++;
  const eGap = 0.37;
  grid.push({ left: 62, top: 398, width: 214, height: 143 });
  xAxis.push(catAxis(eG, eCats, 13));
  yAxis.push({
    ...axisCommon, gridIndex: eG, type: "value", min: 0, max: eMap(3000), interval: 500,
    axisLabel: { ...axisCommon.axisLabel, formatter: (v: number) => String(v > 2000 ? 2000 + (v - 2000) * 2 : v) },
    name: "Relative Fluroscence", nameLocation: "middle", nameGap: 31,
  });
  series.push(barSeries(eG, ePbs, "#000000", eGap, eMap));
  series.push(barSeries(eG, eIl, "#C8C8C8", eGap, eMap));
  series.push(errSeries(eG, ePbs, ePbsErr, 0, 2, eGap, eMap));
  series.push(errSeries(eG, eIl, eIlErr, 1, 2, eGap, eMap));
  const eBand = 214 / 5;
  const eC = (i: number) => 62 + (i + 0.5) * eBand;
  graphic.push({ type: "line", silent: true, shape: { x1: eC(1) - 20, y1: 563, x2: eC(2) + 20, y2: 563 }, style: { stroke: "#AAAAAA", lineWidth: 1 } });
  graphic.push({ type: "line", silent: true, shape: { x1: eC(3) - 20, y1: 563, x2: eC(4) + 20, y2: 563 }, style: { stroke: "#AAAAAA", lineWidth: 1 } });
  graphic.push(text((eC(1) + eC(2)) / 2, 575, "Apig", 14, { align: "center" }));
  graphic.push(text((eC(3) + eC(4)) / 2, 575, "Etha", 14, { align: "center" }));
  [["PBS", "#000000"], ["IL-1β", "#C8C8C8"]].forEach(([nm, c], i) => {
    const y = 407 + i * 17;
    graphic.push({ type: "rect", silent: true, shape: { x: 285, y: y - 4.5, width: 15, height: 9 }, style: { fill: c, stroke: "#000", lineWidth: 1 } });
    graphic.push(text(303, y, nm, 14));
  });
  graphic.push(letter(4, 390, "E"));

  // ---- L & M ----
  const ilPanel = (letterStr: string, lpos: [number, number], box: [number, number, number, number], cats: string[], pbs: number[], pbsE: number[], il: number[], ilE: number[], group: string, legX: number, legY: number) => {
    const g = gi++;
    const gap = 0.38;
    grid.push({ left: box[0], top: box[1], width: box[2], height: box[3] });
    xAxis.push(catAxis(g, cats, 13));
    yAxis.push({ ...axisCommon, gridIndex: g, type: "value", min: 0, max: 5, interval: 1, name: "Relative fluorescence\n(Normalize to DMSO)", nameLocation: "middle", nameGap: 19, nameTextStyle: { ...axisCommon.nameTextStyle, lineHeight: 18 } });
    series.push(barSeries(g, pbs, "#000000", gap));
    series.push(barSeries(g, il, "#FFFFFF", gap));
    series.push(errSeries(g, pbs, pbsE, 0, 2, gap));
    series.push(errSeries(g, il, ilE, 1, 2, gap));
    const band = box[2] / 3;
    const cx = (i: number) => box[0] + (i + 0.5) * band;
    const yb = box[1] + box[3];
    graphic.push({ type: "line", silent: true, shape: { x1: cx(1) - 24, y1: yb + 22, x2: cx(2) + 26, y2: yb + 22 }, style: { stroke: "#000", lineWidth: 1 } });
    graphic.push(text((cx(1) + cx(2)) / 2, yb + 35, group, 14, { align: "center" }));
    [["PBS", "#000000"], ["IL-6", "#FFFFFF"]].forEach(([nm, c], i) => {
      const y = legY + i * 16;
      graphic.push({ type: "rect", silent: true, shape: { x: legX, y: y - 4.5, width: 15, height: 9 }, style: { fill: c, stroke: "#000", lineWidth: 1.2 } });
      graphic.push(text(legX + 18, y, nm, 14));
    });
    graphic.push(letter(lpos[0], lpos[1], letterStr));
  };
  ilPanel("L", [440, 993], [498, 1003, 182, 125], lCats, lPbs, lPbsErr, lIl6, lIl6Err, "Apig", 680, 1010);
  ilPanel("M", [30, 1195], [103, 1204, 182, 128], mCats, mPbs, mPbsErr, mIl6, mIl6Err, "Etha", 290, 1212);

  return {
    animation: false,
    backgroundColor: "#ffffff",
    textStyle: { fontFamily: FONT },
    grid, xAxis, yAxis, series, graphic,
  };
}

export default function App() {
  const ref = useRef<HTMLDivElement>(null);
  useEffect(() => {
    document.body.style.margin = "0";
    if (!ref.current) return;
    const chart = echarts.init(ref.current, undefined, { renderer: "svg" });
    chart.setOption(buildOption() as any);
    return () => chart.dispose();
  }, []);
  return <div ref={ref} style={{ width: 768, height: 1764, background: "#fff" }} />;
}
